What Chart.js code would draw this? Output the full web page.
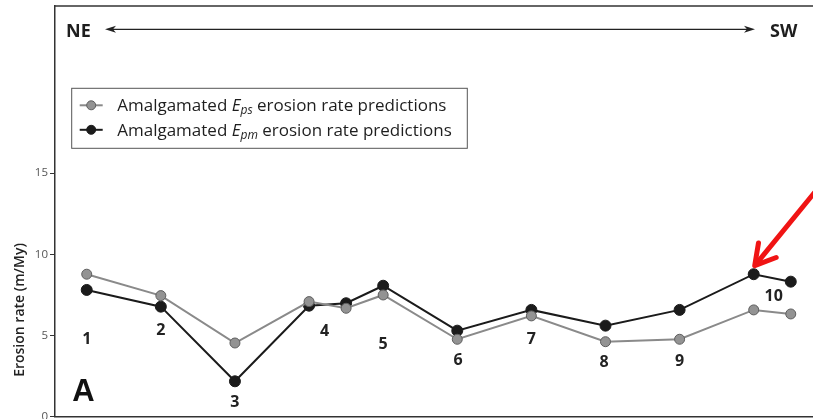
<!DOCTYPE html>
<html>
<head>
<meta charset="utf-8">
<script src="https://cdn.jsdelivr.net/npm/chart.js@4.4.0/dist/chart.umd.min.js"></script>
<style>
html,body{margin:0;padding:0;background:#fff;overflow:hidden;}
#wrap{width:813px;height:419px;position:relative;overflow:hidden;}
canvas{display:block;}
</style>
</head>
<body>
<div id="wrap"><canvas id="c" width="813" height="419"></canvas></div>
<script>
// ---- data ----
const sitePositions = [1, 2, 3, 4, 4.5, 5, 6, 7, 8, 9, 10, 10.5];
const epsValues = [8.77, 7.45, 4.53, 7.08, 6.67, 7.49, 4.76, 6.20, 4.61, 4.76, 6.57, 6.32];
const epmValues = [7.80, 6.77, 2.17, 6.83, 6.98, 8.06, 5.29, 6.57, 5.60, 6.57, 8.77, 8.31];
const yTickValues = [0, 5, 10, 15];
const siteNames = ['1', '2', '3', '4', '5', '6', '7', '8', '9', '10'];
const legendLabels = [
  ['Amalgamated ', 'E', 'ps', ' erosion rate predictions'],
  ['Amalgamated ', 'E', 'pm', ' erosion rate predictions']
];

// ---- annotation layout (value space) ----
const siteLabelAnchors = [
  [1.0, 4.72], [2.0, 5.29], [3.0, 0.88], [4.21, 5.23], [5.0, 4.45],
  [6.01, 3.48], [7.0, 4.78], [7.98, 3.34], [9.0, 3.42], [10.27, 7.39]
];

const FONT = '"Open Sans", "Noto Sans", sans-serif';
const GRAY_LINE = '#8a8a8a', GRAY_PT = '#939393', GRAY_BORDER = '#5e5e5e';
const BLACK = '#1b1b1b';

const toXY = vals => vals.map((v, i) => ({x: sitePositions[i], y: v}));

const decorPlugin = {
  id: 'decor',
  afterDraw(chart) {
    const ctx = chart.ctx;
    const ca = chart.chartArea;
    const xs = chart.scales.x, ys = chart.scales.y;
    ctx.save();
    // top frame line
    ctx.strokeStyle = '#333';
    ctx.lineWidth = 1.5;
    ctx.beginPath();
    ctx.moveTo(ca.left, ca.top);
    ctx.lineTo(ca.right, ca.top);
    ctx.stroke();

    // NE <-> SW header
    ctx.fillStyle = '#1e1e1e';
    ctx.font = 'bold 18px ' + FONT;
    ctx.textBaseline = 'middle';
    ctx.textAlign = 'left';
    ctx.fillText('NE', ca.left + 11, ca.top + 25.5);
    ctx.fillText('SW', 770, ca.top + 25.5);
    const ay = ca.top + 23.3, ax1 = 105, ax2 = 755;
    ctx.strokeStyle = '#222';
    ctx.lineWidth = 1.3;
    ctx.beginPath();
    ctx.moveTo(ax1 + 6, ay); ctx.lineTo(ax2 - 6, ay); ctx.stroke();
    ctx.fillStyle = '#222';
    ctx.beginPath();
    ctx.moveTo(ax1, ay); ctx.lineTo(ax1 + 11, ay - 3.5); ctx.lineTo(ax1 + 8, ay); ctx.lineTo(ax1 + 11, ay + 3.5); ctx.closePath(); ctx.fill();
    ctx.beginPath();
    ctx.moveTo(ax2, ay); ctx.lineTo(ax2 - 11, ay - 3.5); ctx.lineTo(ax2 - 8, ay); ctx.lineTo(ax2 - 11, ay + 3.5); ctx.closePath(); ctx.fill();

    // legend box
    const lx = 71.7, ly = 88.3, lw = 395.6, lh = 60;
    ctx.strokeStyle = '#555';
    ctx.lineWidth = 1;
    ctx.strokeRect(lx, ly, lw, lh);
    const styles = [
      {line: GRAY_LINE, fill: GRAY_PT, border: GRAY_BORDER},
      {line: BLACK, fill: BLACK, border: BLACK}
    ];
    legendLabels.forEach((parts, i) => {
      const cy = ly + 17 + i * 24.5;
      const st = styles[i];
      ctx.strokeStyle = st.line;
      ctx.lineWidth = 2;
      ctx.beginPath(); ctx.moveTo(lx + 8, cy); ctx.lineTo(lx + 31, cy); ctx.stroke();
      ctx.beginPath(); ctx.arc(lx + 19.5, cy, 4.5, 0, Math.PI * 2);
      ctx.fillStyle = st.fill; ctx.fill();
      ctx.strokeStyle = st.border; ctx.lineWidth = 1; ctx.stroke();
      let tx = lx + 45.5;
      ctx.fillStyle = '#1e1e1e';
      ctx.textAlign = 'left';
      ctx.textBaseline = 'alphabetic';
      const base = cy + 6;
      ctx.font = '17px ' + FONT;
      ctx.fillText(parts[0], tx, base); tx += ctx.measureText(parts[0]).width;
      ctx.font = 'italic 17px ' + FONT;
      ctx.fillText(parts[1], tx, base); tx += ctx.measureText(parts[1]).width;
      ctx.font = 'italic 12px ' + FONT;
      ctx.fillText(parts[2], tx, base + 3); tx += ctx.measureText(parts[2]).width;
      ctx.font = '17px ' + FONT;
      ctx.fillText(parts[3], tx, base);
    });

    // site labels
    ctx.fillStyle = '#222';
    ctx.font = 'bold 16px ' + FONT;
    ctx.textAlign = 'center';
    ctx.textBaseline = 'middle';
    siteNames.forEach((name, i) => {
      const a = siteLabelAnchors[i];
      ctx.fillText(name, xs.getPixelForValue(a[0]), ys.getPixelForValue(a[1]));
    });

    // panel letter
    ctx.font = 'bold 31px "Liberation Sans", Arial, sans-serif';
    ctx.fillStyle = '#111';
    ctx.textAlign = 'center';
    ctx.textBaseline = 'alphabetic';
    ctx.fillText('A', ca.left + 28.5, ca.bottom - 15.5);

    // y axis title
    ctx.save();
    ctx.translate(20.5, 310);
    ctx.rotate(-Math.PI / 2);
    ctx.font = '600 14px ' + FONT;
    ctx.fillStyle = '#222';
    ctx.textAlign = 'center';
    ctx.textBaseline = 'middle';
    ctx.fillText('Erosion rate (m/My)', 0, 0);
    ctx.restore();

    // red arrow pointing at Epm site 10 peak
    const meta = chart.getDatasetMeta(1);
    const pt = meta.data[10];
    const tipX = pt.x + 1, tipY = pt.y - 8.5;
    const ang = Math.atan2(-71, 58);
    const len = 120;
    ctx.strokeStyle = '#f01414';
    ctx.lineWidth = 5;
    ctx.lineCap = 'round';
    ctx.lineJoin = 'round';
    ctx.beginPath();
    ctx.moveTo(tipX + 3 * Math.cos(ang), tipY + 3 * Math.sin(ang));
    ctx.lineTo(tipX + len * Math.cos(ang), tipY + len * Math.sin(ang));
    ctx.stroke();
    const wing = 23, spread = 0.52;
    ctx.beginPath();
    ctx.moveTo(tipX + wing * Math.cos(ang - spread), tipY + wing * Math.sin(ang - spread));
    ctx.lineTo(tipX, tipY);
    ctx.lineTo(tipX + wing * Math.cos(ang + spread), tipY + wing * Math.sin(ang + spread));
    ctx.stroke();
    ctx.restore();
  }
};

new Chart(document.getElementById('c'), {
  type: 'scatter',
  data: {
    datasets: [
      {
        label: 'Amalgamated Eps erosion rate predictions',
        data: toXY(epsValues),
        showLine: true,
        borderColor: GRAY_LINE,
        borderWidth: 2,
        pointBackgroundColor: GRAY_PT,
        pointBorderColor: GRAY_BORDER,
        pointBorderWidth: 1,
        pointRadius: 5,
        tension: 0
      },
      {
        label: 'Amalgamated Epm erosion rate predictions',
        data: toXY(epmValues),
        showLine: true,
        borderColor: BLACK,
        borderWidth: 2,
        pointBackgroundColor: BLACK,
        pointBorderColor: BLACK,
        pointBorderWidth: 1,
        pointRadius: 5.5,
        tension: 0
      }
    ]
  },
  options: {
    responsive: false,
    animation: false,
    layout: {autoPadding: false, padding: {top: 6, bottom: 2.5, left: 0, right: 0}},
    plugins: {legend: {display: false}, tooltip: {enabled: false}},
    scales: {
      x: {
        type: 'linear',
        min: 0.572,
        max: 10.8,
        grid: {display: false},
        ticks: {display: false},
        border: {display: true, color: '#333', width: 1.5},
        afterFit(s) { s.height = 0; s.paddingLeft = 0; s.paddingRight = 0; }
      },
      y: {
        type: 'linear',
        min: 0,
        max: 25.3,
        afterBuildTicks(s) { s.ticks = yTickValues.map(v => ({value: v})); },
        afterFit(s) { s.width = 55; s.paddingTop = 0; s.paddingBottom = 0; },
        grid: {drawOnChartArea: false, drawTicks: true, tickLength: 5, color: '#333', lineWidth: 1},
        border: {display: true, color: '#333', width: 1.5},
        ticks: {
          color: '#555',
          font: {family: FONT, size: 11.5},
          padding: 2,
          callback: v => String(v)
        }
      }
    }
  },
  plugins: [decorPlugin]
});
</script>
</body>
</html>
